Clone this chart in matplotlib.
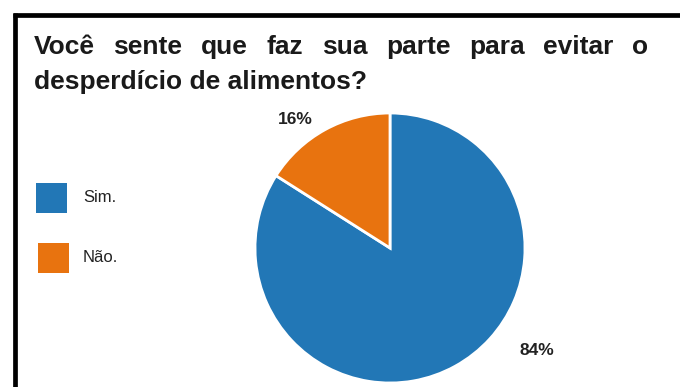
import matplotlib
matplotlib.use("Agg")
import matplotlib.pyplot as plt
from matplotlib.lines import Line2D
from matplotlib.patches import Rectangle

plt.rcParams['font.family'] = ['Liberation Sans', 'DejaVu Sans']

# respostas da pesquisa
categorias = ['Sim.', 'Não.']
valores = [84, 16]
cores = ['#2277b6', '#e8730f']

titulo_linha1 = 'Você sente que faz sua parte para evitar o'
titulo_linha2 = 'desperdício de alimentos?'

W, H = 680, 387
fig = plt.figure(figsize=(W / 100, H / 100), dpi=100)


def fx(px):
    return px / W


def fy(py):
    return 1 - py / H


# moldura preta (topo e lateral esquerda)
fig.add_artist(Line2D([fx(13), fx(680)], [fy(15), fy(15)], color='black', lw=3.4,
                      solid_capstyle='butt'))
fig.add_artist(Line2D([fx(15), fx(15)], [fy(13), fy(400)], color='black', lw=3.4,
                      solid_capstyle='butt'))

# título: primeira linha justificada entre as margens
tit_kw = dict(fontsize=19, fontweight='bold', color='#1a1a1a', va='baseline', ha='left')
renderer = fig.canvas.get_renderer()
palavras = titulo_linha1.split()
textos = [fig.text(0, fy(54), p, **tit_kw) for p in palavras]
larguras = [t.get_window_extent(renderer).width for t in textos]
x0, x1 = 34, 648
espaco = (x1 - x0 - sum(larguras)) / (len(palavras) - 1)
x = x0
for t, w in zip(textos, larguras):
    t.set_x(fx(x))
    x += w + espaco
fig.text(fx(34), fy(89), titulo_linha2, **tit_kw)

# pizza
cx, cy, r = 390, 248, 135
ax = fig.add_axes([fx(cx - r), fy(cy + r), 2 * r / W, 2 * r / H])
ax.pie(valores, colors=cores, startangle=90, counterclock=False, radius=1,
       wedgeprops=dict(edgecolor='white', linewidth=2))
ax.set_xlim(-1, 1)
ax.set_ylim(-1, 1)
ax.set_aspect('auto')
ax.axis('off')

# rótulos de porcentagem
pos_rotulos = [(1.09, -0.76), (-0.70, 0.95)]
for v, (px, py) in zip(valores, pos_rotulos):
    ax.text(px, py, f'{v}%', fontsize=12.5, fontweight='bold', color='#222222',
            ha='center', va='center', clip_on=False)

# legenda
leg_y = [198, 258]
leg_x = [36, 38]
for cat, cor, y, lx in zip(categorias, cores, leg_y, leg_x):
    fig.add_artist(Rectangle((fx(lx), fy(y + 15)), 31 / W, 30 / H,
                             facecolor=cor, edgecolor='none'))
    fig.text(fx(83), fy(y), cat, fontsize=12, color='#222222', ha='left', va='center')

fig.savefig('out.png', dpi=100, facecolor='white')
